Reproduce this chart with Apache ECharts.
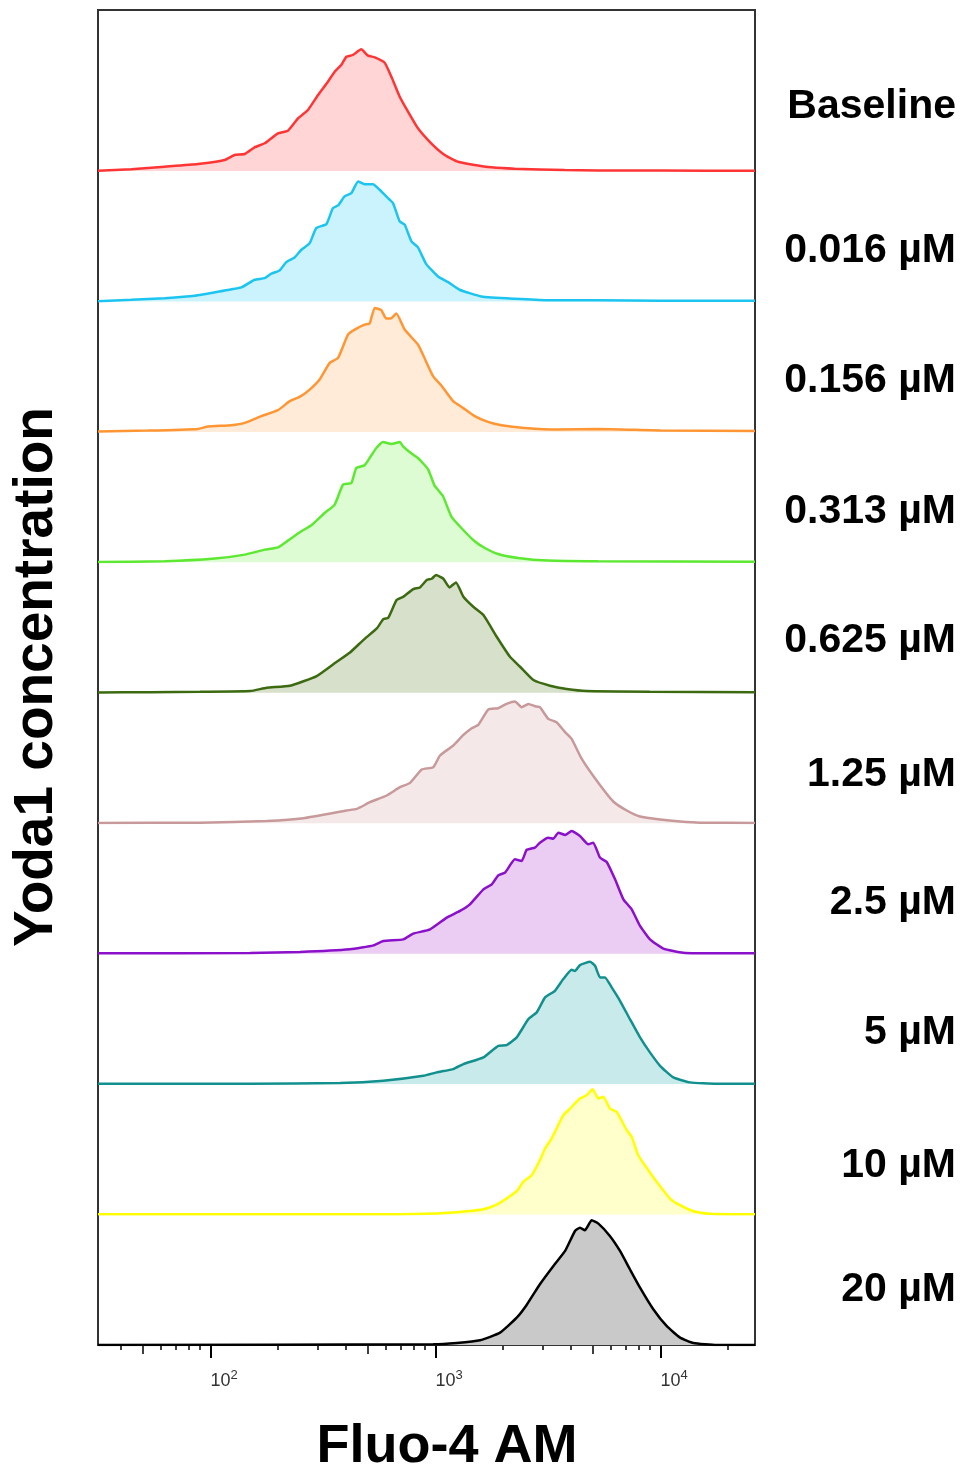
<!DOCTYPE html>
<html><head><meta charset="utf-8">
<script src="https://cdn.jsdelivr.net/npm/echarts@6/dist/echarts.min.js"></script>
<style>html,body{margin:0;padding:0;background:#fff}#c{width:962px;height:1470px}</style>
</head><body><div id="c"></div>
<script>
// Category labels (top to bottom)
const concentrations = ['Baseline','0.016 µM','0.156 µM','0.313 µM','0.625 µM','1.25 µM','2.5 µM','5 µM','10 µM','20 µM'];

// Histograms: [log10(Fluo-4 AM intensity), cell count (a.u.)]
const baseline = [[1.5,0.3],[1.648,1.7],[1.796,4.3],[1.944,7],[2.063,11],[2.107,16],[2.152,17],[2.196,23.7],[2.241,27.7],[2.300,37.7],[2.344,40.3],[2.389,52.7],[2.433,61],[2.478,76],[2.522,89.3],[2.552,99.3],[2.581,106],[2.604,114.3],[2.633,116],[2.670,121.7],[2.700,115.3],[2.730,113.7],[2.774,108.3],[2.804,94.3],[2.841,74.3],[2.878,59.3],[2.922,42.7],[2.981,27.7],[3.041,16],[3.100,9.3],[3.174,6],[3.248,3.7],[3.352,2.3],[3.574,1],[3.722,0.5],[4.0,0.4],[4.42,0.3]];
const c0016 = [[1.5,0.3],[1.648,1.7],[1.796,3.3],[1.930,5.7],[2.063,11],[2.137,14],[2.196,21.7],[2.241,23.3],[2.270,27.7],[2.307,31],[2.337,39.3],[2.374,44],[2.404,51.7],[2.441,58.3],[2.470,73.3],[2.515,77.3],[2.544,93.3],[2.567,96],[2.596,105],[2.626,108.3],[2.656,120],[2.685,117.3],[2.722,117.3],[2.752,111.7],[2.781,105],[2.811,98.3],[2.841,80],[2.863,76.7],[2.893,60],[2.922,54],[2.959,37.3],[3.011,25],[3.056,19.3],[3.107,11.7],[3.204,5],[3.352,2.7],[3.500,1.3],[3.722,1.3],[4.0,0.8],[4.42,0.8]];
const c0156 = [[1.5,0.3],[1.722,1.3],[1.944,3],[1.989,5.3],[2.093,6.7],[2.152,9],[2.226,15.7],[2.300,21.7],[2.352,30.7],[2.396,35],[2.441,42.3],[2.485,52.3],[2.530,69],[2.567,74],[2.611,97.3],[2.641,102.3],[2.685,107.3],[2.707,108.3],[2.730,124],[2.759,121.7],[2.781,113.3],[2.801,113.3],[2.826,118.3],[2.863,102.3],[2.922,87.3],[2.944,77.3],[2.989,55.7],[3.026,46.3],[3.078,30.7],[3.122,24],[3.174,15.7],[3.233,10],[3.293,6.7],[3.396,4],[3.544,2.3],[3.722,3],[4.0,1.5],[4.42,1]];
const c0313 = [[1.5,0.3],[1.796,1],[2.019,3.7],[2.152,7.7],[2.241,12.7],[2.300,15],[2.344,21.7],[2.404,31],[2.448,37],[2.507,49.3],[2.552,57.7],[2.589,77.7],[2.626,79.3],[2.648,94.3],[2.685,97],[2.715,107],[2.737,114.3],[2.767,120.3],[2.804,118.3],[2.841,120.3],[2.856,116],[2.885,110.3],[2.922,104.3],[2.967,93],[2.996,76.7],[3.033,66.3],[3.070,46],[3.115,34.3],[3.174,21],[3.219,14.3],[3.278,8.3],[3.367,4.3],[3.500,1.7],[3.722,1],[4.42,0.5]];
const c0625 = [[1.5,0.3],[1.731,0.5],[1.953,1],[2.176,1.7],[2.250,5],[2.353,7],[2.472,16.7],[2.561,31],[2.620,40.3],[2.679,52.7],[2.739,64.3],[2.768,73.7],[2.790,75],[2.827,92.7],[2.857,96],[2.901,103.7],[2.931,105.3],[2.961,112.7],[2.983,114],[3.002,117.7],[3.035,114],[3.062,105.3],[3.091,110.3],[3.124,96],[3.168,86],[3.213,77.7],[3.272,56],[3.331,36],[3.376,26],[3.435,12.7],[3.509,7],[3.583,3.7],[3.672,1.7],[3.953,1],[4.42,0.5]];
const c125 = [[1.5,0.3],[1.953,0.5],[2.250,2.3],[2.413,5],[2.605,12.7],[2.650,14.3],[2.709,21],[2.783,27.7],[2.842,36],[2.887,40.3],[2.939,53.7],[2.990,56],[3.020,67.7],[3.079,77.7],[3.124,88.3],[3.161,95],[3.190,98.3],[3.235,113.7],[3.279,115],[3.316,119.3],[3.353,121.7],[3.383,116],[3.413,119.3],[3.442,117],[3.464,116],[3.501,104.3],[3.538,101],[3.576,91],[3.605,84.3],[3.650,64.3],[3.716,42.7],[3.790,21.7],[3.850,12.7],[3.909,6.7],[3.998,3.7],[4.087,1.7],[4.176,0.5],[4.42,0.3]];
const c25 = [[1.5,0.3],[2.176,0.7],[2.398,1.7],[2.620,4.3],[2.724,8.3],[2.768,12.7],[2.857,14.3],[2.901,20],[2.976,24.3],[3.050,36],[3.109,42.7],[3.153,49.3],[3.213,64.3],[3.250,69.3],[3.279,78.3],[3.309,81],[3.353,94.3],[3.383,92.7],[3.405,103.7],[3.442,106],[3.464,111],[3.501,116],[3.524,115],[3.546,121],[3.576,118.7],[3.605,122.7],[3.642,117.7],[3.679,109.3],[3.701,111],[3.731,96],[3.761,91.7],[3.798,74.3],[3.835,54.3],[3.872,44.3],[3.909,27.7],[3.953,14.3],[4.013,5],[4.101,1],[4.250,0.3],[4.42,0.3]];
const c5 = [[1.5,0.3],[2.176,0.3],[2.576,1],[2.768,3.3],[2.946,8.3],[3.005,11.7],[3.079,15],[3.124,20],[3.213,26.7],[3.279,38.3],[3.316,39],[3.361,46.7],[3.413,65],[3.450,71.7],[3.487,86.7],[3.531,93.3],[3.568,105],[3.605,114.3],[3.620,113],[3.642,119],[3.687,122.3],[3.709,118.3],[3.731,106.7],[3.753,106.7],[3.783,96.7],[3.820,83.3],[3.864,65],[3.909,46.7],[3.953,31.7],[3.998,18.3],[4.057,6.7],[4.131,1.7],[4.250,0.3],[4.42,0.3]];
const c10 = [[1.5,0.3],[2.768,0.3],[3.005,1],[3.138,3.3],[3.213,5.3],[3.272,10],[3.316,16],[3.361,23.3],[3.390,32.7],[3.427,39.3],[3.464,54.3],[3.487,66],[3.516,76],[3.538,86],[3.568,99.3],[3.598,106],[3.642,116],[3.672,119.3],[3.698,125.3],[3.724,116],[3.746,117.7],[3.775,106],[3.805,102.7],[3.850,84.3],[3.872,77.7],[3.901,59.3],[3.946,44.3],[3.983,32.7],[4.042,16],[4.087,9.3],[4.146,3.3],[4.220,0.7],[4.324,0.3],[4.42,0.3]];
const c20 = [[1.5,0],[2.990,0.7],[3.094,2],[3.198,4.7],[3.287,12.3],[3.361,27.3],[3.405,40],[3.464,60.7],[3.524,79],[3.576,94],[3.620,114],[3.642,117.3],[3.664,114.7],[3.694,124.7],[3.724,121.3],[3.775,109],[3.820,94],[3.864,75.7],[3.909,57.3],[3.968,35.7],[4.027,19],[4.087,7.3],[4.146,2],[4.250,0],[4.42,0]];

// Axis ticks (intensity values)
const majorTicks = [100, 1000, 10000];
const mediumTicks = [50, 500, 5000];
const minorTicks = [40,60,70,80,90,200,300,400,600,700,800,900,2000,3000,4000,6000,7000,8000,9000,20000];
const xMinLog = 1.5, xMaxLog = 4.42;

const seriesData = [baseline,c0016,c0156,c0313,c0625,c125,c25,c5,c10,c20];
const lineColors = ['#FF3535','#1CC5F0','#FF9633','#5DE831','#3C6A10','#C8999A','#8B10C9','#11908E','#FFFF00','#000000'];
const fillColors = ['#FFD5D5','#CBF3FD','#FFEBD7','#DDFCD4','#D6E0CA','#F4E9E8','#EBCDF4','#C9EAEA','#FFFFCC','#C9C9C9'];

const L = 98, W = 657, TOP = 10, BOTTOM = 1345, FIRST_BASE = 171, BAND = 130.44;
const FONT = '"Liberation Sans", Arial, Helvetica, sans-serif';

const grids = [], xAxes = [], yAxes = [], series = [], graphics = [];
const labelY = [107,251,381,512,641,775,903,1033,1166,1290];
seriesData.forEach((d, i) => {
  const base = FIRST_BASE + i * BAND;
  grids.push({left: L, width: W, top: base - BAND, height: BAND, show: false});
  xAxes.push({gridIndex: i, type: 'value', min: xMinLog, max: xMaxLog, show: false});
  yAxes.push({gridIndex: i, type: 'value', min: 0, max: BAND, show: false});
  series.push({
    type: 'line', xAxisIndex: i, yAxisIndex: i, data: d,
    symbol: 'none', showSymbol: false, smooth: 0.15,
    lineStyle: {color: lineColors[i], width: 2.5},
    areaStyle: {color: fillColors[i], opacity: 1},
    z: 3
  });
  graphics.push({type: 'text', x: 956, y: labelY[i],
    style: {text: concentrations[i], font: 'bold 41px ' + FONT, fill: '#000',
      textAlign: 'right', textVerticalAlign: 'middle', align: 'right', verticalAlign: 'middle'}});
});
// frame grid with the visible log axis
grids.push({left: L, width: W, top: TOP, height: BOTTOM - TOP, show: true, borderColor: '#333', borderWidth: 2, backgroundColor: 'transparent', z: 1});
const fi = seriesData.length;
xAxes.push({
  gridIndex: fi, type: 'value', min: xMinLog, max: xMaxLog, position: 'bottom',
  axisLine: {show: true, lineStyle: {color: '#000', width: 2}},
  axisTick: {show: true, customValues: majorTicks.map(Math.log10), length: 13, lineStyle: {color: '#000', width: 2}},
  axisLabel: {show: true, customValues: majorTicks.map(Math.log10), align: 'left', margin: 24,
    formatter: v => '{b|10}{s|' + Math.round(v) + '}',
    rich: {
      b: {fontSize: 18, fontFamily: FONT, color: '#333', lineHeight: 21, padding: [8, 0, 0, 0], verticalAlign: 'bottom'},
      s: {fontSize: 13, fontFamily: FONT, color: '#333', lineHeight: 15, verticalAlign: 'top'}
    }},
  splitLine: {show: false}
});
xAxes.push({
  gridIndex: fi, type: 'value', min: xMinLog, max: xMaxLog, position: 'bottom', offset: 0,
  axisLine: {show: false}, axisLabel: {show: false}, splitLine: {show: false},
  axisTick: {show: true, customValues: mediumTicks.map(Math.log10), length: 9, lineStyle: {color: '#000', width: 1.5}}
});
xAxes.push({
  gridIndex: fi, type: 'value', min: xMinLog, max: xMaxLog, position: 'bottom', offset: 0,
  axisLine: {show: false}, axisLabel: {show: false}, splitLine: {show: false},
  axisTick: {show: true, customValues: minorTicks.map(Math.log10), length: 5, lineStyle: {color: '#000', width: 1.5}}
});
yAxes.push({gridIndex: fi, type: 'value', min: 0, max: 1, show: false});

graphics.push({type: 'text', x: 447, y: 1447,
  style: {text: 'Fluo-4 AM', font: 'bold 54px ' + FONT, fill: '#000',
    textAlign: 'center', textVerticalAlign: 'middle', align: 'center', verticalAlign: 'middle'}});
graphics.push({type: 'text', x: 37, y: 677, rotation: Math.PI / 2,
  style: {text: 'Yoda1 concentration', font: 'bold 55px ' + FONT, fill: '#000',
    textAlign: 'center', textVerticalAlign: 'middle', align: 'center', verticalAlign: 'middle'}});

const chart = echarts.init(document.getElementById('c'), null, {renderer: 'canvas'});
chart.setOption({
  animation: false,
  backgroundColor: '#fff',
  grid: grids, xAxis: xAxes, yAxis: yAxes, series: series,
  graphic: graphics
});
</script></body></html>
